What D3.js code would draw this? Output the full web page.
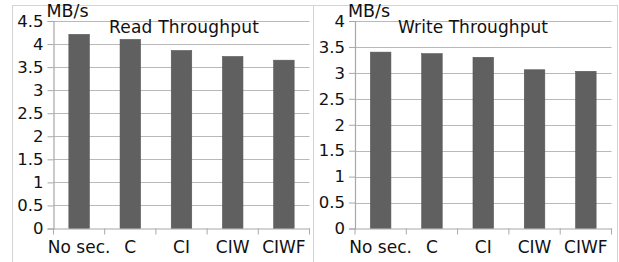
<!DOCTYPE html>
<html>
<head>
<meta charset="utf-8">
<script src="https://cdn.jsdelivr.net/npm/d3@7"></script>
<style>
  body { margin: 0; background: #fff; }
  svg text { font-family: "DejaVu Sans", sans-serif; fill: #111; }
</style>
</head>
<body>
<svg id="chart" width="619" height="262"></svg>
<script>
const categories = ['No sec.', 'C', 'CI', 'CIW', 'CIWF'];
const readValues = [4.21, 4.1, 3.86, 3.73, 3.65];
const writeValues = [3.40, 3.37, 3.30, 3.06, 3.03];
const readTicks = [0, 0.5, 1, 1.5, 2, 2.5, 3, 3.5, 4, 4.5];
const writeTicks = [0, 0.5, 1, 1.5, 2, 2.5, 3, 3.5, 4];

const svg = d3.select('#chart');

function drawPanel(opts) {
    const g = svg.append('g');

    // frame
    g.append('rect')
        .attr('x', opts.frame[0] + 0.5).attr('y', 5.5)
        .attr('width', opts.frame[1] - opts.frame[0]).attr('height', 262)
        .attr('fill', 'none').attr('stroke', '#d4d4d4');

    const x = d3.scaleBand()
        .domain(categories)
        .range([opts.left, opts.right])
        .paddingInner(0.6).paddingOuter(0.3);
    const band = d3.scaleBand().domain(categories).range([opts.left, opts.right]);
    const y = d3.scaleLinear()
        .domain([0, d3.max(opts.ticks)])
        .range([228.5, 21]);

    // grid
    g.selectAll('line.grid')
        .data(opts.ticks.filter(t => t > 0))
        .enter().append('line')
            .attr('class', 'grid')
            .attr('x1', opts.left).attr('x2', opts.right)
            .attr('y1', t => Math.round(y(t)) + 0.5)
            .attr('y2', t => Math.round(y(t)) + 0.5)
            .attr('stroke', '#b9b9b9').attr('stroke-width', 1.2);

    // bars
    g.selectAll('rect.bar')
        .data(opts.values)
        .enter().append('rect')
            .attr('class', 'bar')
            .attr('x', (d, i) => x(categories[i]))
            .attr('y', d => y(d))
            .attr('width', x.bandwidth())
            .attr('height', d => y(0) - y(d))
            .attr('fill', '#606060')
            .attr('stroke', '#555').attr('stroke-width', 0.6);

    // y axis
    const yAxis = g.append('g')
        .attr('transform', 'translate(' + opts.left + ',0)')
        .call(d3.axisLeft(y).tickValues(opts.ticks).tickSize(6).tickPadding(4)
            .tickFormat(d => String(d)));
    yAxis.select('.domain').attr('stroke', '#a8a8a8').attr('stroke-width', 1.2);
    yAxis.selectAll('.tick line').attr('stroke', '#a8a8a8');
    yAxis.selectAll('.tick text').style('font-size', '16.5px').attr('fill', '#111');

    // x axis
    const xAxis = g.append('g')
        .attr('transform', 'translate(0,' + y(0) + ')')
        .call(d3.axisBottom(band).tickSize(0).tickPadding(12));
    xAxis.select('.domain').attr('stroke', '#a8a8a8').attr('stroke-width', 1.2);
    xAxis.selectAll('.tick text').style('font-size', '17px').attr('fill', '#111');
    g.selectAll('line.xtick')
        .data(categories.map(c => band(c)).concat([opts.right]))
        .enter().append('line')
            .attr('class', 'xtick')
            .attr('x1', d => d).attr('x2', d => d)
            .attr('y1', y(0)).attr('y2', y(0) + 6)
            .attr('stroke', '#a8a8a8');

    // unit label and title
    g.append('text')
        .attr('x', opts.left - 7).attr('y', 17)
        .style('font-size', '17.5px')
        .text('MB/s');
    g.append('text')
        .attr('x', opts.titleX).attr('y', 33)
        .attr('text-anchor', 'middle')
        .style('font-size', '17px')
        .attr('textLength', 150)
        .text(opts.title);
}

drawPanel({ frame: [12, 313], left: 53.5, right: 309.5, values: readValues,
    ticks: readTicks, title: 'Read Throughput', titleX: 184 });
drawPanel({ frame: [313, 617], left: 355, right: 611.5, values: writeValues,
    ticks: writeTicks, title: 'Write Throughput', titleX: 473 });
</script>
</body>
</html>
